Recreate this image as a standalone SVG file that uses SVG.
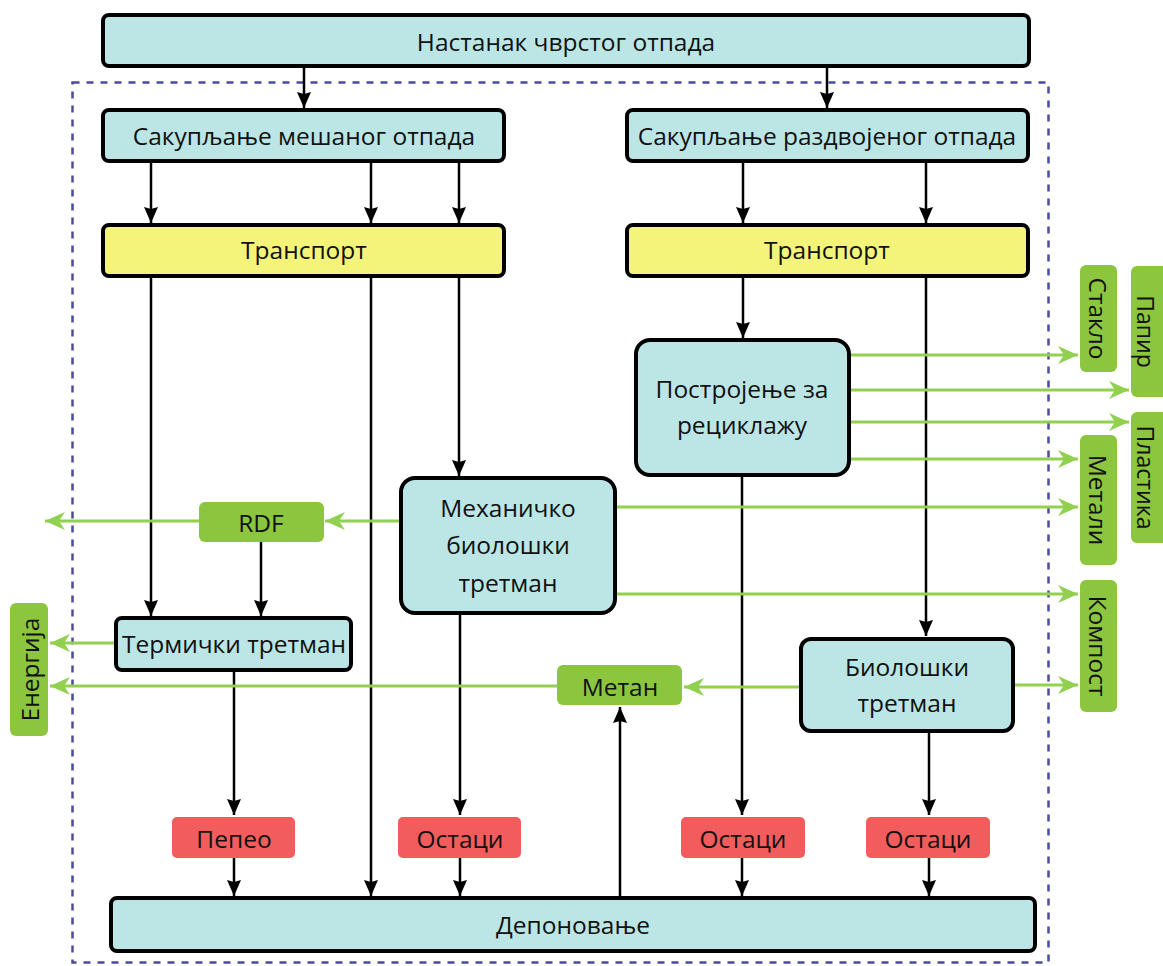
<svg xmlns="http://www.w3.org/2000/svg" width="1163" height="966" viewBox="0 0 1163 966">
<style>
text{font-family:"Open Sans","Liberation Sans",sans-serif;font-size:24.5px;fill:#111;text-anchor:middle;dominant-baseline:central}
.edge{font-size:23px}
.blue{fill:#bce6e5;stroke:#000;stroke-width:4}
.yel{fill:#f4f47a;stroke:#000;stroke-width:4}
.grn{fill:#8cc63e}
.red{fill:#f25c5c}
.bl{stroke:#000;stroke-width:2.5;fill:none}
.gl{stroke:#92d050;stroke-width:3;fill:none}
</style>
<defs>
<marker id="ab" viewBox="0 0 16 14" refX="16" refY="7" markerWidth="16" markerHeight="14" markerUnits="userSpaceOnUse" orient="auto"><path d="M0,0 L16,7 L0,14 L2,7 z" fill="#000"/></marker>
<marker id="ag" viewBox="0 0 20 18" refX="20" refY="9" markerWidth="20" markerHeight="18" markerUnits="userSpaceOnUse" orient="auto"><path d="M0,0 L20,9 L0,18 L6,9 z" fill="#92d050"/></marker>
</defs>
<rect x="72.5" y="82.5" width="976" height="880" fill="none" stroke="#4b4b9b" stroke-width="2.5" stroke-dasharray="7,7"/>
<g id="connectors">
<line class="bl" x1="304" y1="66" x2="304" y2="108" marker-end="url(#ab)"/>
<line class="bl" x1="827" y1="66" x2="827" y2="108" marker-end="url(#ab)"/>
<line class="bl" x1="151" y1="161" x2="151" y2="223" marker-end="url(#ab)"/>
<line class="bl" x1="371" y1="161" x2="371" y2="223" marker-end="url(#ab)"/>
<line class="bl" x1="459" y1="161" x2="459" y2="223" marker-end="url(#ab)"/>
<line class="bl" x1="743" y1="161" x2="743" y2="223" marker-end="url(#ab)"/>
<line class="bl" x1="926" y1="161" x2="926" y2="223" marker-end="url(#ab)"/>
<line class="bl" x1="151" y1="276" x2="151" y2="616" marker-end="url(#ab)"/>
<line class="bl" x1="371" y1="276" x2="371" y2="896" marker-end="url(#ab)"/>
<line class="bl" x1="459" y1="276" x2="459" y2="476" marker-end="url(#ab)"/>
<line class="bl" x1="743" y1="276" x2="743" y2="338" marker-end="url(#ab)"/>
<line class="bl" x1="926" y1="276" x2="926" y2="636" marker-end="url(#ab)"/>
<line class="bl" x1="261" y1="542" x2="261" y2="616" marker-end="url(#ab)"/>
<line class="bl" x1="234" y1="670" x2="234" y2="815" marker-end="url(#ab)"/>
<line class="bl" x1="460" y1="613" x2="460" y2="815" marker-end="url(#ab)"/>
<line class="bl" x1="742" y1="475" x2="742" y2="815" marker-end="url(#ab)"/>
<line class="bl" x1="929" y1="731" x2="929" y2="815" marker-end="url(#ab)"/>
<line class="bl" x1="234" y1="858" x2="234" y2="896" marker-end="url(#ab)"/>
<line class="bl" x1="460" y1="858" x2="460" y2="896" marker-end="url(#ab)"/>
<line class="bl" x1="742" y1="858" x2="742" y2="896" marker-end="url(#ab)"/>
<line class="bl" x1="929" y1="858" x2="929" y2="896" marker-end="url(#ab)"/>
<line class="bl" x1="620" y1="898" x2="620" y2="707" marker-end="url(#ab)"/>
<line class="gl" x1="849" y1="355" x2="1078" y2="355" marker-end="url(#ag)"/>
<line class="gl" x1="849" y1="390" x2="1129" y2="390" marker-end="url(#ag)"/>
<line class="gl" x1="849" y1="422" x2="1129" y2="422" marker-end="url(#ag)"/>
<line class="gl" x1="849" y1="459" x2="1078" y2="459" marker-end="url(#ag)"/>
<line class="gl" x1="615" y1="507" x2="1078" y2="507" marker-end="url(#ag)"/>
<line class="gl" x1="615" y1="594" x2="1078" y2="594" marker-end="url(#ag)"/>
<line class="gl" x1="401" y1="521" x2="325" y2="521" marker-end="url(#ag)"/>
<line class="gl" x1="199" y1="521" x2="45" y2="521" marker-end="url(#ag)"/>
<line class="gl" x1="116" y1="643" x2="50" y2="643" marker-end="url(#ag)"/>
<line class="gl" x1="557" y1="686" x2="50" y2="686" marker-end="url(#ag)"/>
<line class="gl" x1="800" y1="687" x2="684" y2="687" marker-end="url(#ag)"/>
<line class="gl" x1="1013" y1="685" x2="1078" y2="685" marker-end="url(#ag)"/>
</g>
<g id="n-top"><rect class="blue" x="103" y="15" width="926" height="51" rx="6"/><text x="566" y="41">Настанак чврстог отпада</text></g>
<g id="n-mixed"><rect class="blue" x="103" y="110" width="401" height="51" rx="6"/><text x="304" y="135">Сакупљање мешаног отпада</text></g>
<g id="n-sep"><rect class="blue" x="627" y="110" width="401" height="51" rx="6"/><text x="827" y="135">Сакупљање раздвојеног отпада</text></g>
<g id="n-tr1"><rect class="yel" x="103" y="225" width="401" height="51" rx="6"/><text x="304" y="249">Транспорт</text></g>
<g id="n-tr2"><rect class="yel" x="627" y="225" width="401" height="51" rx="6"/><text x="827" y="249">Транспорт</text></g>
<g id="n-plant"><rect class="blue" x="636" y="340" width="213" height="135" rx="14"/><text x="742" y="388">Постројење за</text><text x="742" y="424">рециклажу</text></g>
<g id="n-mbt"><rect class="blue" x="401" y="478" width="214" height="135" rx="14"/><text x="508" y="507">Механичко</text><text x="508" y="544">биолошки</text><text x="508" y="582">третман</text></g>
<g id="n-rdf"><rect class="grn" x="199" y="502" width="125" height="40" rx="6"/><text x="261" y="522">RDF</text></g>
<g id="n-therm"><rect class="blue" x="116" y="618" width="235" height="52" rx="6"/><text x="234" y="643">Термички третман</text></g>
<g id="n-bio"><rect class="blue" x="801" y="639" width="212" height="92" rx="10"/><text x="907" y="666">Биолошки</text><text x="907" y="702">третман</text></g>
<g id="n-metan"><rect class="grn" x="557" y="665" width="125" height="40" rx="6"/><text x="620" y="686">Метан</text></g>
<g id="n-energy"><rect class="grn" x="10" y="603" width="38" height="133" rx="6"/><text transform="translate(29,669.5) rotate(-90)">Енергија</text></g>
<g id="n-staklo"><rect class="grn" x="1080" y="265" width="37" height="107" rx="6"/><text transform="translate(1098.5,318.5) rotate(90)">Стакло</text></g>
<g id="n-papir"><rect class="grn" x="1131" y="266" width="40" height="131" rx="6"/><text class="edge" transform="translate(1146,331.5) rotate(90)">Папир</text></g>
<g id="n-plast"><rect class="grn" x="1131" y="412" width="40" height="131" rx="6"/><text class="edge" transform="translate(1146,477.5) rotate(90)">Пластика</text></g>
<g id="n-metali"><rect class="grn" x="1080" y="435" width="37" height="130" rx="6"/><text transform="translate(1098.5,500) rotate(90)">Метали</text></g>
<g id="n-kompost"><rect class="grn" x="1080" y="580" width="37" height="132" rx="6"/><text transform="translate(1098.5,646) rotate(90)">Компост</text></g>
<g id="n-pepeo"><rect class="red" x="172" y="817" width="123" height="41" rx="5"/><text x="234" y="838">Пепео</text></g>
<g id="n-ost1"><rect class="red" x="398" y="817" width="123" height="41" rx="5"/><text x="460" y="838">Остаци</text></g>
<g id="n-ost2"><rect class="red" x="681" y="817" width="124" height="41" rx="5"/><text x="743" y="838">Остаци</text></g>
<g id="n-ost3"><rect class="red" x="866" y="817" width="124" height="41" rx="5"/><text x="928" y="838">Остаци</text></g>
<g id="n-depo"><rect class="blue" x="111" y="898" width="924" height="53" rx="6"/><text x="573" y="924">Депоновање</text></g>
</svg>
